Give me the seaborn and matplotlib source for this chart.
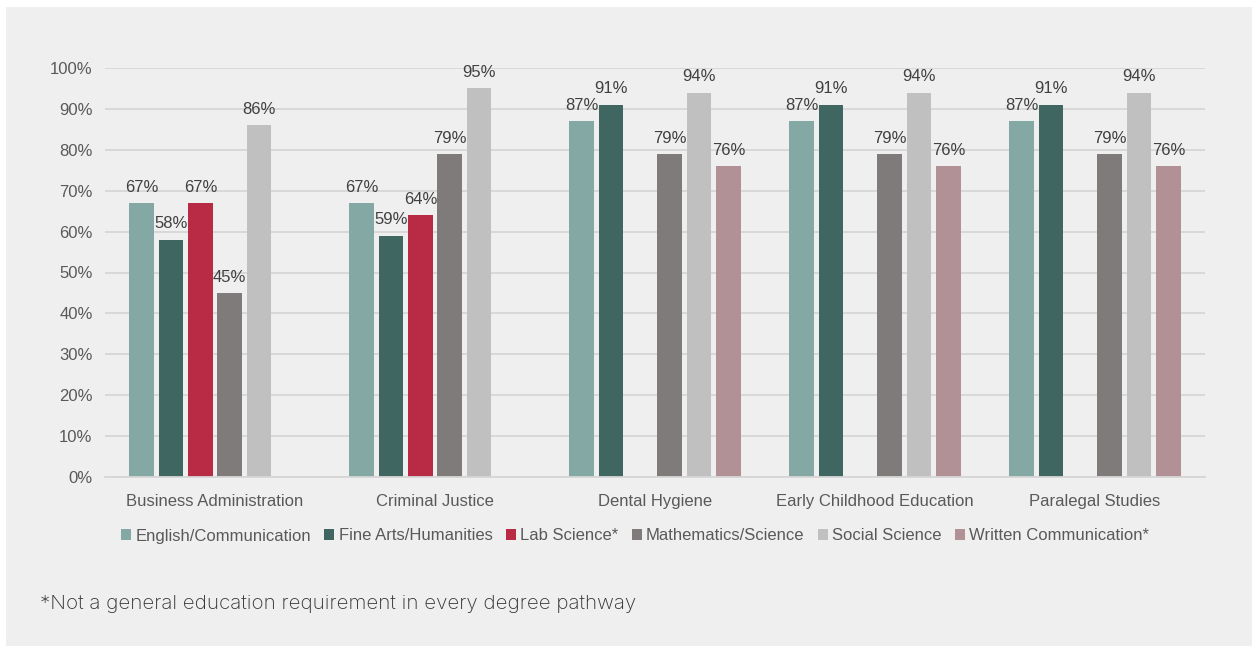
import matplotlib
matplotlib.use("Agg")
import matplotlib.pyplot as plt
from matplotlib.patches import Patch, Rectangle
import numpy as np
import pandas as pd
import seaborn as sns

# Degree pathways and general-education categories
pathways = ["Business Administration", "Criminal Justice", "Dental Hygiene",
            "Early Childhood Education", "Paralegal Studies"]
categories = ["English/Communication", "Fine Arts/Humanities", "Lab Science*",
              "Mathematics/Science", "Social Science", "Written Communication*"]

english = [67, 67, 87, 87, 87]
fine_arts = [58, 59, 91, 91, 91]
lab_science = [67, 64, np.nan, np.nan, np.nan]
math_science = [45, 79, 79, 79, 79]
social_science = [86, 95, 94, 94, 94]
written_comm = [np.nan, np.nan, 76, 76, 76]

colors = ["#84a9a4", "#3f6661", "#b92b44", "#7f7b7a", "#c0c0c0", "#b29196"]

series = [english, fine_arts, lab_science, math_science, social_science, written_comm]
rows = []
for cat, vals in zip(categories, series):
    for p, v in zip(pathways, vals):
        if not np.isnan(v):
            rows.append({"pathway": p, "category": cat, "pct": v})
df = pd.DataFrame(rows)

sns.set_theme(style="white")
plt.rcParams["font.family"] = ["Liberation Sans", "DejaVu Sans"]

fig = plt.figure(figsize=(12.52, 6.46), dpi=100, facecolor="white")
fig.patches.append(Rectangle((6 / 1252, 0), 1, 1 - 7 / 646, transform=fig.transFigure,
                             facecolor="#efefef", edgecolor="none", zorder=-10))

ax = fig.add_axes([105 / 1252, 1 - 477 / 646, 1100 / 1252, (477 - 68) / 646])
ax.set_facecolor("none")

sns.barplot(data=df, x="pathway", y="pct", hue="category",
            order=pathways, hue_order=categories, palette=colors,
            width=0.8, gap=0.17, saturation=1, ax=ax, legend=False,
            linewidth=0, errorbar=None)

for cont in ax.containers:
    ax.bar_label(cont, fmt="%.0f%%", padding=6, fontsize=12, color="#404040")

ax.set_ylim(0, 100)
ax.set_xlim(-0.5, 4.5)
ax.set_yticks(range(0, 101, 10))
ax.set_yticklabels([f"{v}%" for v in range(0, 101, 10)])
ax.yaxis.grid(True, color="#d6d6d6", linewidth=1.3)
ax.set_axisbelow(True)
ax.tick_params(axis="both", length=0, labelsize=12, labelcolor="#595959")
ax.tick_params(axis="y", pad=9)
ax.tick_params(axis="x", pad=12)
ax.set_xlabel("")
ax.set_ylabel("")
for s in ["top", "right", "left"]:
    ax.spines[s].set_visible(False)
ax.spines["bottom"].set_color("#d6d6d6")
ax.spines["bottom"].set_linewidth(1.3)

handles = [Patch(facecolor=c, edgecolor="none") for c in colors]
leg = fig.legend(handles, categories, loc="center", bbox_to_anchor=(635 / 1252, 1 - 536 / 646),
                 ncol=6, frameon=False, fontsize=12, handlelength=0.6, handleheight=0.6,
                 handletextpad=0.25, columnspacing=0.8)
for t in leg.get_texts():
    t.set_color("#595959")

fig.text(40 / 1252, 1 - 604 / 646, "*Not a general education requirement in every degree pathway",
         fontsize=14.8, color="#333333", family=["Inter", "DejaVu Sans"], fontweight="light",
         va="center", ha="left")

fig.savefig("out.png", dpi=100, facecolor=fig.get_facecolor())
